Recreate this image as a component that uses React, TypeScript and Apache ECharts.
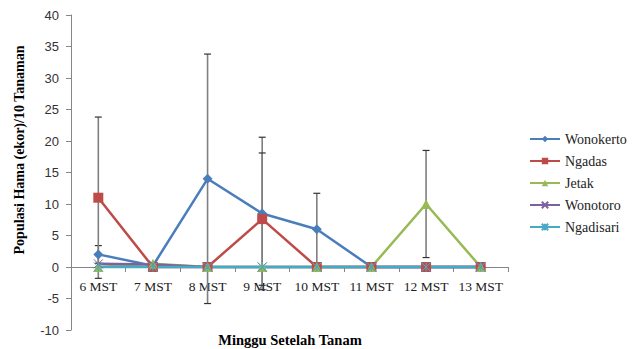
import React, { useEffect, useRef } from "react";
import * as echarts from "echarts";

const categories = ["6 MST", "7 MST", "8 MST", "9 MST", "10 MST", "11 MST", "12 MST", "13 MST"];
const wonokerto = [2, 0.2, 14, 8.5, 6, 0, 0, 0];
const ngadas = [11, 0, 0, 7.6, 0, 0, 0, 0];
const jetak = [0, 0.5, 0, 0, 0, 0, 10, 0];
const wonotoro = [0.5, 0.4, 0, 0, 0, 0, 0, 0];
const ngadisari = [0, 0, 0, 0, 0, 0, 0, 0];
const wonokertoSD = [1.4, 0, 19.8, 12.1, 5.7, 0, 0, 0];
const ngadasSD = [12.8, 0.6, 0, 10.5, 0, 0, 0, 0];
const jetakSD = [0, 0, 0, 0, 0, 0, 8.5, 0];
const yTicks = { min: -10, max: 40, interval: 5 };

const colors = {
  Wonokerto: "#4a7ebb",
  Ngadas: "#be4b48",
  Jetak: "#98b954",
  Wonotoro: "#7d60a0",
  Ngadisari: "#46aac5",
};

const xPath = "path://M0,0L10,10M10,0L0,10";
const starPath = "path://M0,0L10,10M10,0L0,10M5,0L5,10";

function errorSeries(name: string, means: number[], sds: number[]) {
  const data = means.map((m, i) => [i, m, sds[i]]);
  return {
    type: "custom",
    name: name + "-err",
    z: 1,
    silent: true,
    data,
    renderItem: (params: any, api: any) => {
      const i = api.value(0);
      const m = api.value(1);
      const sd = api.value(2);
      if (!sd) return null;
      const top = api.coord([i, m + sd]);
      const bot = api.coord([i, m - sd]);
      const hw = 3.5;
      return {
        type: "group",
        children: [
          { type: "line", shape: { x1: top[0], y1: top[1], x2: bot[0], y2: bot[1] }, style: { stroke: "#7f7f7f", lineWidth: 1.6 } },
          { type: "line", shape: { x1: top[0] - hw, y1: top[1], x2: top[0] + hw, y2: top[1] }, style: { stroke: "#333", lineWidth: 1.2 } },
          { type: "line", shape: { x1: bot[0] - hw, y1: bot[1], x2: bot[0] + hw, y2: bot[1] }, style: { stroke: "#333", lineWidth: 1.2 } },
        ],
      };
    },
  };
}

function lineSeries(name: string, data: number[], symbol: string, size: number, hollowStroke = false) {
  const c = (colors as any)[name];
  return {
    type: "line",
    name,
    data,
    z: 3,
    symbol,
    symbolSize: size,
    lineStyle: { color: c, width: 2.5 },
    itemStyle: hollowStroke
      ? { color: c, borderColor: c, borderWidth: 1 }
      : { color: c, borderWidth: 0 },
  };
}

export default function App() {
  const ref = useRef<HTMLDivElement>(null);
  useEffect(() => {
    if (!ref.current) return;
    const chart = echarts.init(ref.current, null, { renderer: "svg" });
    chart.setOption({
      animation: false,
      backgroundColor: "#fff",
      grid: { left: 71, right: 134, top: 15, bottom: 19 },
      legend: {
        orient: "vertical",
        left: 529,
        top: 132,
        padding: 0,
        itemWidth: 30,
        itemHeight: 8,
        itemGap: 8,
        data: ["Wonokerto", "Ngadas", "Jetak", "Wonotoro", "Ngadisari"],
        textStyle: { fontFamily: "Liberation Serif", fontSize: 14, color: "#222" },
      },
      xAxis: {
        type: "category",
        data: categories,
        boundaryGap: true,
        offset: -63,
        axisLine: { onZero: false, lineStyle: { color: "#868686", width: 1 } },
        axisTick: { show: true, length: 5, lineStyle: { color: "#868686" } },
        axisLabel: { interval: 0, fontFamily: "Liberation Serif", fontSize: 13.5, color: "#222", margin: 12 },
        splitLine: { show: false },
      },
      yAxis: {
        type: "value",
        min: yTicks.min,
        max: yTicks.max,
        interval: yTicks.interval,
        axisLine: { show: true, lineStyle: { color: "#868686", width: 1 } },
        axisTick: { show: true, length: 5, lineStyle: { color: "#868686" } },
        axisLabel: { fontFamily: "Liberation Sans", fontSize: 13, color: "#333", margin: 12 },
        splitLine: { show: false },
      },
      graphic: [
        {
          type: "text",
          x: 19,
          y: 150,
          rotation: Math.PI / 2,
          style: {
            text: "Populasi Hama (ekor)/10 Tanaman",
            fontFamily: "Liberation Serif",
            fontWeight: "bold",
            fontSize: 14,
            fill: "#000",
            align: "center",
            verticalAlign: "middle",
          },
        },
        {
          type: "text",
          x: 290,
          y: 340,
          style: {
            text: "Minggu Setelah Tanam",
            fontFamily: "Liberation Serif",
            fontWeight: "bold",
            fontSize: 14.5,
            fill: "#000",
            align: "center",
            verticalAlign: "middle",
          },
        },
      ],
      series: [
        errorSeries("Wonokerto", wonokerto, wonokertoSD),
        errorSeries("Ngadas", ngadas, ngadasSD),
        errorSeries("Jetak", jetak, jetakSD),
        lineSeries("Wonokerto", wonokerto, "diamond", 10),
        lineSeries("Ngadas", ngadas, "rect", 10),
        lineSeries("Jetak", jetak, "triangle", 10),
        lineSeries("Wonotoro", wonotoro, xPath, 9, true),
        lineSeries("Ngadisari", ngadisari, starPath, 9, true),
      ],
    });
    return () => chart.dispose();
  }, []);
  return <div ref={ref} style={{ position: "absolute", left: 0, top: 0, width: 642, height: 349 }} />;
}
